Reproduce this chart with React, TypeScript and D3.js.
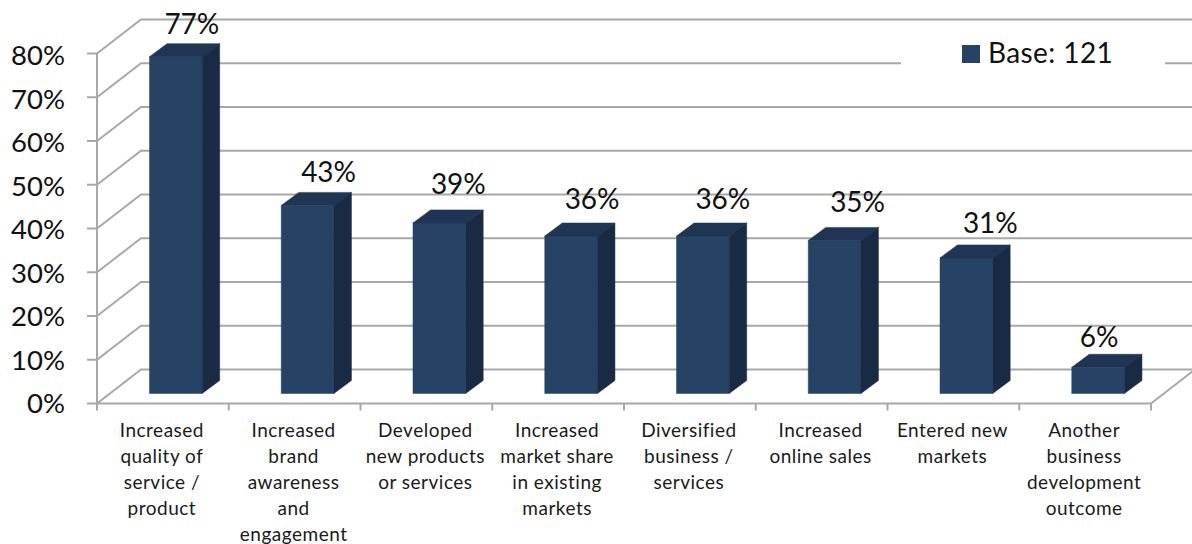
import React from "react";
import * as d3 from "d3";

const categories = [
  ["Increased", "quality of", "service /", "product"],
  ["Increased", "brand", "awareness", "and", "engagement"],
  ["Developed", "new products", "or services"],
  ["Increased", "market share", "in existing", "markets"],
  ["Diversified", "business /", "services"],
  ["Increased", "online sales"],
  ["Entered new", "markets"],
  ["Another", "business", "development", "outcome"],
];
const values = [77, 43, 39, 36, 36, 35, 31, 6];
const yTicks = [0, 10, 20, 30, 40, 50, 60, 70, 80];
const legendLabel = "Base: 121";

// Hand-placed data label shifts relative to each bar's front face centre.
const labelShiftX = [16, 21, 19, 21, 20, 23, 24, 1];
const labelShiftY = [-22.5, -23, -29, -27.5, -27.5, -28.5, -24.5, -20.5];

const WIDTH = 1192;
const HEIGHT = 544;
const FONT = "Lato, Carlito, 'Open Sans', sans-serif";
const GRID = "#a8a8a8";
const FRONT = "#264265";
const TOP = "#1f3553";
const SIDE = "#192b44";

// Oblique projection: wall sits behind the front plane, bars stand inside the floor.
const WALL_DX = 44;
const WALL_DY = -34;
const BAR_DX = 17.5;
const BAR_DY = -13;
const BAR_INSET_X = 52.5;
const BAR_LIFT = 10;
const BAR_WIDTH = 52.7;

const y = d3.scaleLinear().domain([0, 80]).range([403.5, 53.5]);
// Baselines of the value axis labels run on a slightly tighter spacing than the ticks.
const yLabel = d3.scaleLinear().domain([0, 80]).range([413, 65]);
const x = d3
  .scaleBand<number>()
  .domain(d3.range(categories.length))
  .range([97, 1151])
  .padding(0);

const poly = (pts: [number, number][]) => {
  const line = d3.line();
  return line(pts) + "Z";
};

export default function App() {
  const left = x.range()[0];
  const right = x.range()[1];
  return (
    <svg
      width={WIDTH}
      height={HEIGHT}
      viewBox={`0 0 ${WIDTH} ${HEIGHT}`}
      style={{ position: "absolute", left: 0, top: 0, display: "block", background: "#fff" }}
      fontFamily={FONT}
    >
      {/* back wall gridlines and their diagonals on the side wall */}
      {yTicks.map((t) => (
        <g key={t} stroke={GRID} strokeWidth={2} fill="none">
          <path d={`M${left},${y(t)}L${left + WALL_DX},${y(t) + WALL_DY}L${WIDTH},${y(t) + WALL_DY}`} />
          <path d={`M${left - 10},${y(t)}L${left},${y(t)}`} />
        </g>
      ))}
      {/* axis lines and floor edge */}
      <g stroke={GRID} strokeWidth={2} fill="none">
        <path d={`M${left},${y(80)}L${left},${y(0)}L${right},${y(0)}`} />
        <path d={`M${right},${y(0)}L${right + WALL_DX},${y(0) + WALL_DY}`} />
        {d3.range(categories.length + 1).map((i) => {
          const tx = left + i * x.bandwidth();
          return <path key={i} d={`M${tx},${y(0)}L${tx},${y(0) + 7}`} />;
        })}
      </g>
      {/* legend panel interrupts the gridline behind it */}
      <rect x={901} y={30} width={264} height={60} fill="#fff" />
      <rect x={962} y={45} width={18} height={18} fill={FRONT} />
      <text x={988} y={63} fontSize={28} letterSpacing={0.4} fill="#111">
        {legendLabel}
      </text>
      {/* bars */}
      {values.map((v, i) => {
        const x0 = (x(i) as number) + BAR_INSET_X;
        const x1 = x0 + BAR_WIDTH;
        const top = y(v) - BAR_LIFT;
        const base = y(0) - BAR_LIFT;
        return (
          <g key={i}>
            <path d={poly([[x0, base], [x1, base], [x1, top], [x0, top]])} fill={FRONT} stroke={FRONT} strokeWidth={0.5} />
            <path
              d={poly([[x0, top], [x1, top], [x1 + BAR_DX, top + BAR_DY], [x0 + BAR_DX, top + BAR_DY]])}
              fill={TOP}
              stroke={TOP}
              strokeWidth={0.5}
            />
            <path
              d={poly([[x1, base], [x1 + BAR_DX, base + BAR_DY], [x1 + BAR_DX, top + BAR_DY], [x1, top]])}
              fill={SIDE}
              stroke={SIDE}
              strokeWidth={0.5}
            />
            <text
              x={(x0 + x1) / 2 + labelShiftX[i]}
              y={top + labelShiftY[i]}
              textAnchor="middle"
              fontSize={28}
              fill="#111"
            >
              {v}%
            </text>
          </g>
        );
      })}
      {/* value axis labels */}
      {yTicks.map((t) => (
        <text key={t} x={65} y={yLabel(t)} textAnchor="end" fontSize={27.5} fill="#111">
          {t}%
        </text>
      ))}
      {/* category labels */}
      {categories.map((lines, i) => (
        <text key={i} textAnchor="middle" fontSize={19} letterSpacing={0.5} fill="#1a1a1a">
          {lines.map((l, j) => (
            <tspan key={j} x={(x(i) as number) + x.bandwidth() / 2 - 1} y={436.5 + j * 26}>
              {l}
            </tspan>
          ))}
        </text>
      ))}
    </svg>
  );
}
